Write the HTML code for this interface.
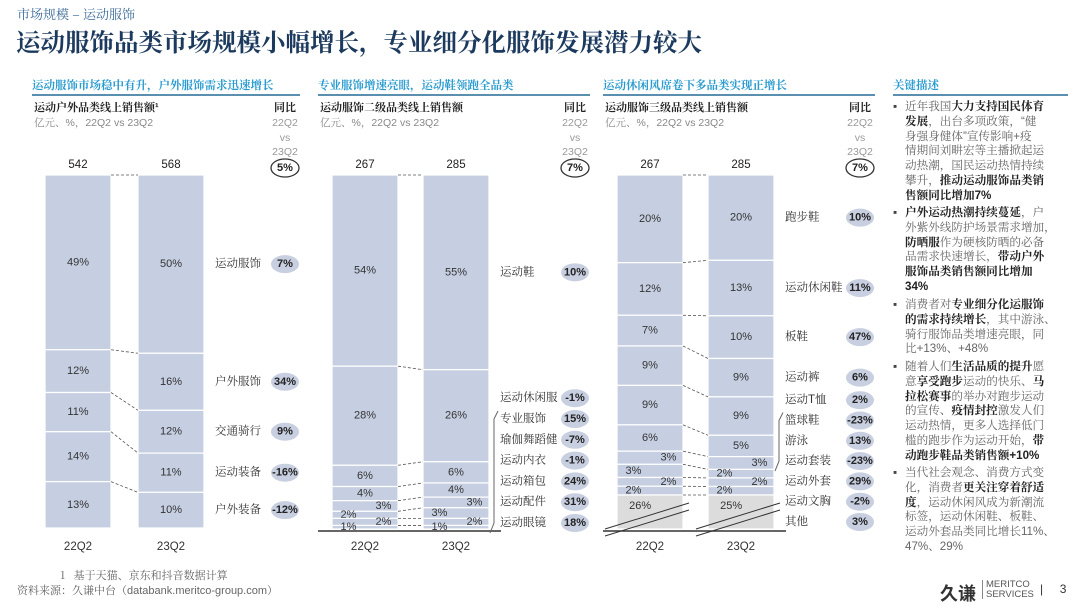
<!DOCTYPE html>
<html><head><meta charset="utf-8">
<style>
body{margin:0;width:1080px;height:608px;background:#fff;overflow:hidden;font-family:"Liberation Sans","Noto Serif CJK SC","Noto Sans CJK SC",sans-serif;}
#root{position:relative;width:1080px;height:608px;}
.t{position:absolute;white-space:nowrap;}
.bul{position:absolute;left:893px;width:180px;font-size:11.6px;line-height:14.8px;color:#666;font-family:"Liberation Sans","Noto Serif CJK SC",serif;}
.bul b{color:#222;}
.bul .dot{position:absolute;left:0;top:0;color:#444;}
.bul .tx{position:absolute;left:12px;white-space:nowrap;}
svg text{font-family:"Liberation Sans","Noto Serif CJK SC","Noto Sans CJK SC",sans-serif;}
</style></head><body>
<div id="root">
<div class="t" style="left:17px;top:4px;font-size:13px;color:#3a6b9a;font-family:'Noto Serif CJK SC',serif;">市场规模 – 运动服饰</div>
<div class="t" style="left:16px;top:24px;font-size:24.5px;font-weight:bold;color:#1c3a5e;font-family:'Noto Serif CJK SC',serif;">运动服饰品类市场规模小幅增长，专业细分化服饰发展潜力较大</div>

<div class="bul" style="top:100px;"><span class="dot">▪</span><div class="tx">近年我国<b>大力支持国民体育</b><br><b>发展</b>，出台多项政策，“健<br>身强身健体”宣传影响+疫<br>情期间刘畊宏等主播掀起运<br>动热潮，国民运动热情持续<br>攀升，<b>推动运动服饰品类销</b><br><b>售额同比增加7%</b></div></div>
<div class="bul" style="top:206px;"><span class="dot">▪</span><div class="tx"><b>户外运动热潮持续蔓延</b>，户<br>外紫外线防护场景需求增加，<br><b>防晒服</b>作为硬核防晒的必备<br>品需求快速增长，<b>带动户外</b><br><b>服饰品类销售额同比增加</b><br><b>34%</b></div></div>
<div class="bul" style="top:298px;"><span class="dot">▪</span><div class="tx">消费者对<b>专业细分化运服饰</b><br><b>的需求持续增长</b>，其中游泳、<br>骑行服饰品类增速亮眼，同<br>比+13%、+48%</div></div>
<div class="bul" style="top:360px;"><span class="dot">▪</span><div class="tx">随着人们<b>生活品质的提升</b>愿<br>意<b>享受跑步</b>运动的快乐、<b>马</b><br><b>拉松赛事</b>的举办对跑步运动<br>的宣传、<b>疫情封控</b>激发人们<br>运动热情，更多人选择低门<br>槛的跑步作为运动开始，<b>带</b><br><b>动跑步鞋品类销售额+10%</b></div></div>
<div class="bul" style="top:466px;"><span class="dot">▪</span><div class="tx">当代社会观念、消费方式变<br>化，消费者<b>更关注穿着舒适</b><br><b>度</b>，运动休闲风成为新潮流<br>标签，运动休闲鞋、板鞋、<br>运动外套品类同比增长11%、<br>47%、29%</div></div>

<div class="t" style="left:60px;top:567px;font-size:11px;color:#666;font-family:'Noto Serif CJK SC',serif;">1&nbsp;&nbsp;&nbsp;基于天猫、京东和抖音数据计算</div>
<div class="t" style="left:17px;top:582px;font-size:11px;color:#666;font-family:'Liberation Sans','Noto Serif CJK SC',serif;">资料来源：久谦中台（databank.meritco-group.com）</div>
<div class="t" style="left:940px;top:580px;font-size:18px;font-weight:bold;color:#333;font-family:'Noto Sans CJK SC',sans-serif;">久谦</div>
<div class="t" style="left:982px;top:580px;font-size:9.5px;line-height:9.5px;color:#555;border-left:1px solid #888;padding-left:3px;">MERITCO<br>SERVICES</div>
<div class="t" style="left:1040px;top:582px;font-size:12px;color:#333;">|&nbsp;&nbsp;&nbsp;&nbsp;&nbsp;3</div>

<svg id="chart" width="1080" height="608" style="position:absolute;left:0;top:0;"></svg>
</div>
<script>
// Panel 1 data
const p1Cats = ["运动服饰","户外服饰","交通骑行","运动装备","户外装备"];
const p1Share22 = [49,12,11,14,13];
const p1Share23 = [50,16,12,11,10];
const p1Yoy = ["7%","34%","9%","-16%","-12%"];
const p1Totals = [542,568];
const p1TotalYoy = "5%";
// Panel 2 data
const p2Cats = ["运动鞋","运动休闲服","专业服饰","瑜伽舞蹈健","运动内衣","运动箱包","运动配件","运动眼镜"];
const p2Share22 = [54,28,6,4,3,2,2,1];
const p2Share23 = [55,26,6,4,3,3,2,1];
const p2Yoy = ["10%","-1%","15%","-7%","-1%","24%","31%","18%"];
const p2Totals = [267,285];
const p2TotalYoy = "7%";
// Panel 3 data
const p3Cats = ["跑步鞋","运动休闲鞋","板鞋","运动裤","运动T恤","篮球鞋","游泳","运动套装","运动外套","运动文胸","其他"];
const p3Share22 = [20,12,7,9,9,6,3,3,2,2,26];
const p3Share23 = [20,13,10,9,9,5,3,2,2,2,25];
const p3Yoy = ["10%","11%","47%","6%","2%","-23%","13%","-23%","29%","-2%","3%"];
const p3Totals = [267,285];
const p3TotalYoy = "7%";
const periods = ["22Q2","23Q2"];

const svg = document.getElementById('chart');
const NS = "http://www.w3.org/2000/svg";
function mk(tag, attrs, parent){
  const e = document.createElementNS(NS, tag);
  for (const k in attrs) e.setAttribute(k, attrs[k]);
  (parent||svg).appendChild(e);
  return e;
}
function txt(x,y,s,opt,parent){
  const e = mk('text',Object.assign({x:x,y:y,'font-size':11,fill:'#333','text-anchor':'middle','dominant-baseline':'central'},opt||{}),parent);
  e.textContent = s;
  return e;
}

function panel(cfg){
  const g = mk('g',{});
  
  
  const h = txt(cfg.left, 86, cfg.header, {'text-anchor':'start','font-size':11.5,fill:'#2a9bd0','font-weight':'bold'}, g);
  
  
  const hl = mk('line',{x1:cfg.left,x2:cfg.right,y1:95,y2:95,stroke:'#5b8fb0','stroke-width':2},g);
  
  
  const ct = txt(cfg.left+2, 108, cfg.title, {'text-anchor':'start','font-size':11,'font-weight':'bold',fill:'#222'}, g);
  
  
  const un = txt(cfg.left+2, 123, '亿元、%，22Q2 vs 23Q2', {'text-anchor':'start','font-size':10.5,fill:'#888'}, g);
  
  
  const yx = cfg.badgeX;
  const yh = txt(yx, 108, '同比', {'font-size':11,'font-weight':'bold',fill:'#222'}, g);
  
  
  [['22Q2',123],['vs',138],['23Q2',152]].forEach(function(a){
    const e = txt(yx, a[1], a[0], {'font-size':10.5,fill:'#999'}, g);
    
    
  });
  const te = mk('ellipse',{cx:yx,cy:168,rx:14,ry:9,fill:'#fff',stroke:'#333','stroke-width':1.3},g);
  
  
  const tt = txt(yx,168,cfg.totalYoy,{'font-weight':'bold','font-size':11,fill:'#222'},g);
  
  

  const top = 175, bottom = cfg.bottom;
  const series = [cfg.s22, cfg.s23];
  const bounds = [];
  series.forEach(function(s, bi){
    const bx = cfg.barX[bi], bw = cfg.barW;
    let otherH = cfg.otherH || 0;
    const n = s.length;
    const sumMain = cfg.otherH ? s.slice(0,n-1).reduce((a,b)=>a+b,0) : s.reduce((a,b)=>a+b,0);
    const scale = (bottom - top - otherH) / sumMain;
    let y = top; const bd=[]; let small=0;
    const tl = txt(bx+bw/2, 165, String(cfg.totals[bi]), {'font-size':11.5,fill:'#222'}, g);
    
    
    s.forEach(function(v, i){
      const isOther = cfg.otherH && i===n-1;
      const hgt = isOther ? otherH : v*scale;
      const r = mk('rect',{x:bx,y:y,width:bw,height:hgt,fill:isOther?'#dcdcdc':'#c6cfe2',stroke:'#fff','stroke-width':1.2},g);
      
      
      let lx = bx+bw/2;
      if (!isOther && v<4){ lx = bx + (small%2===0 ? bw*0.78 : bw*0.25); small++; }
      if (isOther) lx = bx + bw*0.35;
      const lt = txt(lx, y+hgt/2 + (isOther?-6:0), v+'%', {'font-size':11,fill:'#333'}, g);
      
      
      y += hgt; bd.push(y);
      if (bi===1) cfg.centers.push(y-hgt/2);
    });
    bounds.push(bd);
    if (cfg.otherH){
      const ys = bottom - otherH + 8;
      [0,7].forEach(function(o){
        const bl = mk('line',{x1:bx-12,y1:ys+26+o,x2:bx+bw+6,y2:ys+o,stroke:'#333','stroke-width':1},g);
        
        
      });
    }
    const pl = txt(bx+bw/2, 547, periods[bi], {'font-size':11.5,fill:'#333'}, g);
    
    
  });
  for (let i=0;i<bounds[0].length-1;i++){
    const c = mk('line',{x1:cfg.barX[0]+cfg.barW,y1:bounds[0][i],x2:cfg.barX[1],y2:bounds[1][i],stroke:'#555','stroke-width':0.8,'stroke-dasharray':'3,2'},g);
    
    
  }
  const tc = mk('line',{x1:cfg.barX[0]+cfg.barW,y1:top,x2:cfg.barX[1],y2:top,stroke:'#555','stroke-width':0.8,'stroke-dasharray':'3,2'},g);
  
  
  if (cfg.baseline){
    const b = mk('line',{x1:cfg.left,x2:cfg.barX[1]+cfg.barW+12,y1:cfg.bottom+2,y2:cfg.bottom+2,stroke:'#333','stroke-width':1.5},g);
    
    
  }
  const ys = cfg.centers.slice();
  const gap = cfg.gap, maxY = cfg.maxY;
  for (let i=1;i<ys.length;i++) if (ys[i] < ys[i-1]+gap) ys[i]=ys[i-1]+gap;
  if (ys[ys.length-1] > maxY) ys[ys.length-1] = maxY;
  for (let i=ys.length-2;i>=0;i--) if (ys[i] > ys[i+1]-gap) ys[i]=ys[i+1]-gap;
  cfg.cats.forEach(function(c,i){
    const lab = txt(cfg.labelX, ys[i], c, {'text-anchor':'start','font-size':11.5,fill:'#333'}, g);
    
    
    const be = mk('ellipse',{cx:cfg.badgeX,cy:ys[i],rx:14,ry:9,fill:'#c8cfe0'},g);
    
    
    const bt = txt(cfg.badgeX, ys[i], cfg.yoy[i], {'font-weight':'bold','font-size':11,fill:'#222'}, g);
    
    
  });
  if (cfg.bracket){
    const bx = cfg.labelX - 6;
    const br = mk('polyline',{points:(bx+4)+','+(ys[cfg.bracket[0]]-8)+' '+bx+','+(ys[cfg.bracket[0]])+' '+bx+','+(ys[cfg.bracket[1]])+' '+(bx-4)+','+(ys[cfg.bracket[1]]+10),fill:'none',stroke:'#666','stroke-width':1},g);
    
    
  }
}

panel({name:'panel-sportswear-outdoor',left:32,right:300,header:'运动服饰市场稳中有升，户外服饰需求迅速增长',title:'运动户外品类线上销售额¹',
  barX:[45,138],barW:66,bottom:528,cats:p1Cats,s22:p1Share22,s23:p1Share23,yoy:p1Yoy,totals:p1Totals,totalYoy:p1TotalYoy,
  labelX:215,badgeX:285,gap:20,maxY:514,centers:[]});
panel({name:'panel-sportswear-level2',left:318,right:590,header:'专业服饰增速亮眼，运动鞋领跑全品类',title:'运动服饰二级品类线上销售额',
  barX:[332,423],barW:66,bottom:529,cats:p2Cats,s22:p2Share22,s23:p2Share23,yoy:p2Yoy,totals:p2Totals,totalYoy:p2TotalYoy,
  labelX:500,badgeX:575,gap:20.8,maxY:523,centers:[],baseline:true,bracket:[2,7]});
panel({name:'panel-sportswear-level3',left:603,right:875,header:'运动休闲风席卷下多品类实现正增长',title:'运动服饰三级品类线上销售额',
  barX:[617,708],barW:66,bottom:529,cats:p3Cats,s22:p3Share22,s23:p3Share23,yoy:p3Yoy,totals:p3Totals,totalYoy:p3TotalYoy,
  labelX:785,badgeX:860,gap:20.3,maxY:522,centers:[],otherH:34,baseline:true,bracket:[5,7]});

const kh = txt(893, 86, '关键描述', {'text-anchor':'start','font-size':11.5,fill:'#2a9bd0','font-weight':'bold'});


const kl = mk('line',{x1:893,x2:1068,y1:95,y2:95,stroke:'#5b8fb0','stroke-width':2});


</script>
</body></html>
